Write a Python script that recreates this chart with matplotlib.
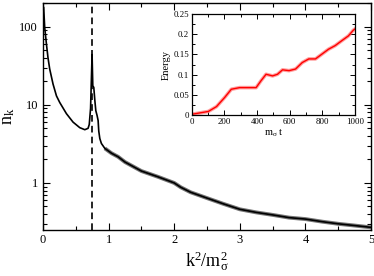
import matplotlib
matplotlib.use('Agg')
import matplotlib.pyplot as plt
from matplotlib.ticker import MultipleLocator, FixedLocator, FuncFormatter, LogLocator, NullFormatter

plt.rcParams['font.family'] = 'Liberation Serif'
plt.rcParams['mathtext.fontset'] = 'custom'
plt.rcParams['mathtext.rm'] = 'Liberation Serif'
plt.rcParams['mathtext.it'] = 'Liberation Serif:italic'

# spectrum n_k vs k^2/m_sigma^2
k2 = [0.01, 0.026, 0.052, 0.076, 0.102, 0.153, 0.205, 0.255, 0.357, 0.458, 0.56, 0.637,
      0.687, 0.705, 0.725, 0.748, 0.759, 0.774, 0.79, 0.805, 0.824, 0.84, 0.85, 0.866,
      0.89, 0.942, 1.044, 1.145, 1.25, 1.5, 1.75, 2.0, 2.1, 2.25, 2.5, 2.75, 3.0, 3.25,
      3.5, 3.75, 4.0, 4.25, 4.5, 4.75, 5.0]
nk = [175, 97, 60, 40, 28.7, 18.4, 13, 10.7, 7.7, 6.0, 5.1, 4.8,
      5.0, 5.6, 9.0, 44, 17.5, 16.7, 11.4, 8.4, 7.3, 6.3, 4.6, 3.7,
      3.2, 2.77, 2.4, 2.16, 1.85, 1.42, 1.2, 1.0, 0.88, 0.76, 0.64, 0.54, 0.46, 0.42,
      0.39, 0.36, 0.345, 0.32, 0.30, 0.285, 0.27]
k_res = 0.745

# inset: energy vs m_sigma t
t = [0, 101, 151, 202, 242, 293, 354, 394, 424, 455, 495, 525, 556, 596, 636, 677,
     717, 758, 798, 838, 879, 919, 960, 990, 1000]
energy = [0.002, 0.009, 0.021, 0.044, 0.064, 0.068, 0.068, 0.068, 0.085, 0.101, 0.097,
          0.101, 0.112, 0.11, 0.114, 0.13, 0.139, 0.139, 0.151, 0.163, 0.172, 0.184,
          0.196, 0.21, 0.213]

fig = plt.figure(figsize=(3.74, 2.76), dpi=100)
ax = fig.add_axes([0.115, 0.1667, 0.877, 0.822])

# noisy tail drawn as a grey band under the black line
tail = [i for i, x in enumerate(k2) if x >= 0.9]
ax.plot([k2[i] for i in tail], [nk[i] for i in tail], color='0.45', lw=2.8, solid_capstyle='butt')
ax.plot(k2, nk, color='k', lw=1.2)
ax.axvline(k_res, color='k', lw=1.2, ls=(0, (4, 2.5)))

ax.set_yscale('log')
ax.set_xlim(0, 5)
ax.set_ylim(0.25, 200)
ax.xaxis.set_major_locator(MultipleLocator(1))
ax.xaxis.set_minor_locator(MultipleLocator(0.5))
ax.yaxis.set_major_locator(FixedLocator([1, 10, 100]))
ax.yaxis.set_major_formatter(FuncFormatter(lambda v, p: '%g' % v))
ax.yaxis.set_minor_locator(LogLocator(base=10, subs=range(2, 10)))
ax.yaxis.set_minor_formatter(NullFormatter())
ax.tick_params(which='both', direction='in', top=True, right=True, labelsize=9, width=0.8)
ax.tick_params(which='major', length=5)
ax.tick_params(which='minor', length=3)
ax.tick_params(axis='x', pad=3)
for s in ax.spines.values():
    s.set_linewidth(1.0)
ax.set_xlabel(r'$\mathrm{k^2/m_\sigma^2}$', fontsize=13, labelpad=2)
ax.set_ylabel(r'$\mathrm{n_k}$', fontsize=13, labelpad=2)

ins = fig.add_axes([0.513, 0.583, 0.436, 0.366])
ins.plot(t, energy, color='#ff6060', lw=2.6, alpha=0.6)
ins.plot(t, energy, color='red', lw=1.0)
ins.set_xlim(0, 1000)
ins.set_ylim(0, 0.25)
ins.xaxis.set_major_locator(MultipleLocator(200))
ins.xaxis.set_minor_locator(MultipleLocator(100))
ins.yaxis.set_major_locator(MultipleLocator(0.05))
ins.yaxis.set_minor_locator(MultipleLocator(0.025))
ins.yaxis.set_major_formatter(FuncFormatter(lambda v, p: '%g' % round(v, 3)))
ins.tick_params(which='both', direction='in', top=True, right=True, labelsize=6.3, width=0.7, pad=2)
ins.tick_params(which='major', length=3.5)
ins.tick_params(which='minor', length=2)
for s in ins.spines.values():
    s.set_linewidth(0.9)
ins.set_xlabel(r'$\mathrm{m_\sigma\ t}$', fontsize=7.5, labelpad=1)
ins.set_ylabel('Energy', fontsize=7.5, labelpad=2)

fig.savefig('out.png', dpi=100)
